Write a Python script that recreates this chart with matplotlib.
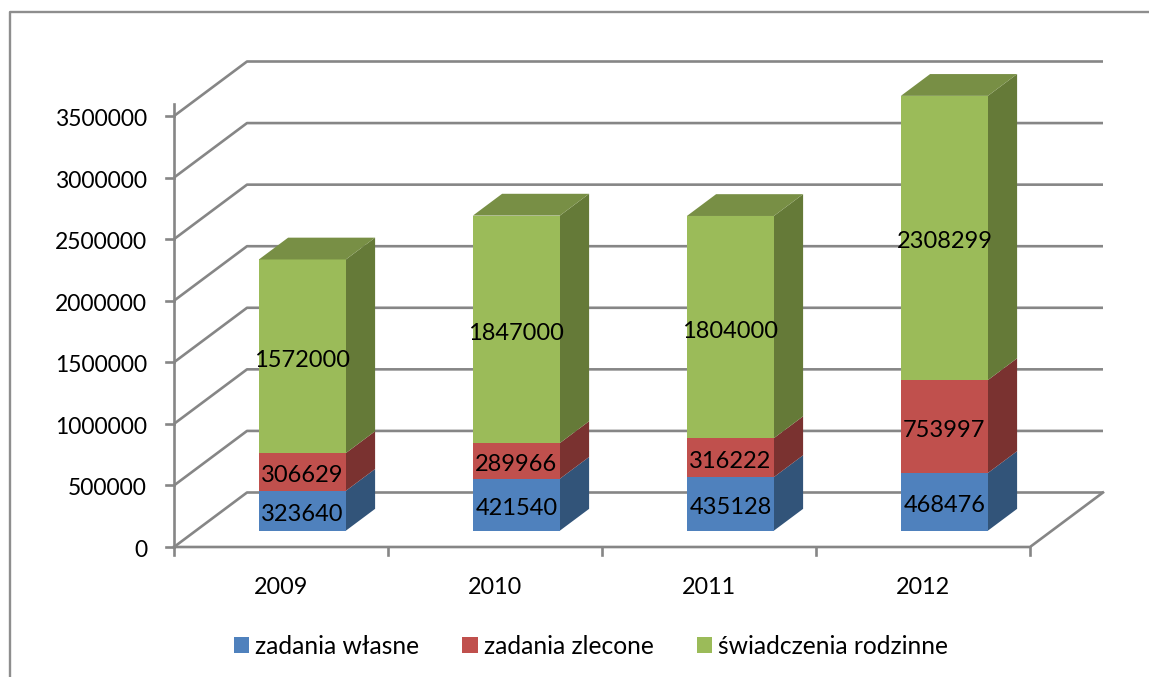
import numpy as np
import matplotlib
matplotlib.use('Agg')
import matplotlib.pyplot as plt
from matplotlib.patches import Polygon, Patch

plt.rcParams['font.family'] = ['Lato', 'DejaVu Sans']

# Dane
years = ['2009', '2010', '2011', '2012']
zadania_wlasne = [323640, 421540, 435128, 468476]
zadania_zlecone = [306629, 289966, 316222, 753997]
swiadczenia = [1572000, 1847000, 1804000, 2308299]
y_ticks = [0, 500000, 1000000, 1500000, 2000000, 2500000, 3000000, 3500000]
series_names = ['zadania własne', 'zadania zlecone', 'świadczenia rodzinne']

front_colors = ['#4F81BD', '#C0504D', '#9BBB59']
side_colors = ['#325479', '#7A3230', '#657A38']
top_color = '#788F45'
GRID = '#868686'

W, H = 1149, 677
PX_X = 214.0               # pikseli na kategorie
PX_Y = 431.0 / 3500000     # pikseli na jednostke wartosci
X0, Y0 = 174, 547          # poczatek ukladu na obrazku

fig = plt.figure(figsize=(W / 100, H / 100), dpi=100)
ax = fig.add_axes([0, 0, 1, 1])
ax.set_xlim(-X0 / PX_X, (W - X0) / PX_X)
ax.set_ylim(-(H - Y0) / PX_Y, Y0 / PX_Y)
ax.axis('off')

# glebokosc "3D" w jednostkach danych
DX = 73 / PX_X
DY = 54.5 / PX_Y


def proj(x, v, d):
    # d = 0 przod, d = 1 tylna sciana
    return x + d * DX, v + d * DY


lw = 1.9

# siatka: skos + linia na tylnej scianie
for v in y_ticks:
    xs = [0, DX, 4 + DX]
    ys = [v, v + DY, v + DY]
    ax.plot(xs, ys, color=GRID, lw=lw, zorder=1, solid_capstyle='butt')
    ax.plot([-8 / PX_X, 0], [v, v], color=GRID, lw=lw, zorder=1)
    ax.text(-27 / PX_X, v - 1.5 / PX_Y, str(v), ha='right', va='center_baseline', fontsize=16.5, color='black')

# os pionowa, podloga
ax.plot([0, 0], [0, 3600000], color=GRID, lw=lw, zorder=1)
ax.plot([0, 4, 4 + DX], [0, 0, DY], color=GRID, lw=lw, zorder=1)
for i in range(5):
    ax.plot([i, i], [0, -8 / PX_Y], color=GRID, lw=lw, zorder=1)

# slupki
bar_w = 87 / PX_X
d0, d1 = 0.3, 0.7
for i, year in enumerate(years):
    ax.text(i + 0.5, -38 / PX_Y, year, ha='center', va='center_baseline', fontsize=16.8)
    left = i + 0.5 - bar_w / 2 - 0.5 / PX_X
    right = left + bar_w
    base = 0
    vals = [zadania_wlasne[i], zadania_zlecone[i], swiadczenia[i]]
    for j, val in enumerate(vals):
        top = base + val
        side = [proj(right, base, d0), proj(right, base, d1), proj(right, top, d1), proj(right, top, d0)]
        front = [proj(left, base, d0), proj(right, base, d0), proj(right, top, d0), proj(left, top, d0)]
        ax.add_patch(Polygon(side, closed=True, fc=side_colors[j], ec='none', zorder=3))
        ax.add_patch(Polygon(front, closed=True, fc=front_colors[j], ec='none', zorder=3))
        if j == 2:
            roof = [proj(left, top, d0), proj(right, top, d0), proj(right, top, d1), proj(left, top, d1)]
            ax.add_patch(Polygon(roof, closed=True, fc=top_color, ec='none', zorder=3))
        cx, cy = proj((left + right) / 2, (base + top) / 2, d0)
        ax.text(cx, cy - 2 / PX_Y, str(val), ha='center', va='center_baseline', fontsize=17, zorder=4)
        base = top

# ramka wykresu
ax.plot(np.array([10, 10, W]) / PX_X - X0 / PX_X,
        (Y0 - np.array([H, 12, 12])) / PX_Y,
        color='#8E8E8E', lw=1.7, zorder=0, clip_on=False)

handles = [Patch(fc=c, ec='none') for c in front_colors]
ax.legend(handles, series_names, ncol=3, loc='center', bbox_to_anchor=(591 / W, 1 - 646.5 / H),
          bbox_transform=fig.transFigure, frameon=False, fontsize=17.7,
          handlelength=0.62, handleheight=0.62, handletextpad=0.25, columnspacing=1.75)

fig.savefig('out.png', dpi=100)
